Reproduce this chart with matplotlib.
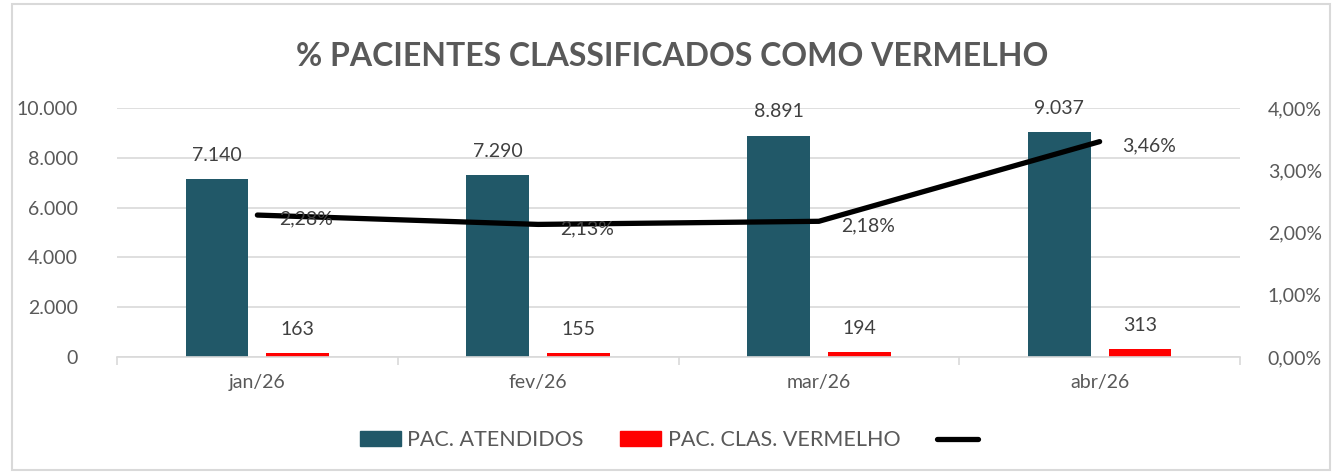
import matplotlib.pyplot as plt
import matplotlib.patches as mpatches
from matplotlib.lines import Line2D
import numpy as np

plt.rcParams['font.family'] = ['Lato', 'DejaVu Sans']

meses = ['jan/26', 'fev/26', 'mar/26', 'abr/26']
atendidos = [7140, 7290, 8891, 9037]
vermelho = [163, 155, 194, 313]
percentual = [2.28, 2.13, 2.18, 3.46]

COR_AZUL = '#215868'
COR_VERM = '#ff0000'
COR_TEXTO = '#595959'
COR_GRADE = '#d9d9d9'


def fmt_milhar(v):
    return f'{v:,.0f}'.replace(',', '.')


fig = plt.figure(figsize=(13.44, 4.75), dpi=100)
fig.patches.append(mpatches.Rectangle((12 / 1344, 5 / 475), 1318 / 1344, 466 / 475,
                                      transform=fig.transFigure, fill=False,
                                      edgecolor=COR_GRADE, linewidth=1.5))

ax = fig.add_axes([117 / 1344, 1 - 357 / 475, 1123 / 1344, 249 / 475])
ax2 = ax.twinx()

x = np.arange(len(meses))
largura = 0.224
desloc = 0.144

ax.bar(x - desloc, atendidos, largura, color=COR_AZUL, zorder=2)
ax.bar(x + desloc, vermelho, largura, color=COR_VERM, zorder=2)

for xi, v in zip(x, atendidos):
    ax.annotate(fmt_milhar(v), (xi - desloc, v), xytext=(0, 11), textcoords='offset points',
                ha='center', va='bottom', fontsize=14, color='#404040')
for xi, v in zip(x, vermelho):
    ax.annotate(fmt_milhar(v), (xi + desloc, v), xytext=(0, 11), textcoords='offset points',
                ha='center', va='bottom', fontsize=14, color='#404040')

ax.set_xlim(-0.5, 3.5)
ax.set_ylim(0, 10000)
ax.set_yticks(range(0, 10001, 2000))
ax.set_yticklabels([fmt_milhar(v) for v in range(0, 10001, 2000)])
ax.grid(axis='y', color=COR_GRADE, linewidth=1.2, zorder=0)
ax.set_axisbelow(True)

ax.set_xticks(x)
ax.set_xticklabels(meses)
ax.set_xticks(np.arange(-0.5, 4, 1), minor=True)
ax.tick_params(axis='x', which='major', length=0, pad=12, labelsize=14, labelcolor=COR_TEXTO)
ax.tick_params(axis='x', which='minor', length=6, color=COR_GRADE, width=1.2)
ax.tick_params(axis='y', length=0, pad=28, labelsize=14, labelcolor=COR_TEXTO)

for lado in ['top', 'left', 'right']:
    ax.spines[lado].set_visible(False)
    ax2.spines[lado].set_visible(False)
ax.spines['bottom'].set_color(COR_GRADE)
ax.spines['bottom'].set_linewidth(1.2)
ax2.spines['bottom'].set_visible(False)

# taxa de vermelhos no eixo secundario
ax2.plot(x, percentual, color='black', linewidth=3.8, solid_capstyle='round', zorder=3)
for xi, p in zip(x, percentual):
    ax2.annotate(f'{p:.2f}%'.replace('.', ','), (xi, p), xytext=(16, -3), textcoords='offset points',
                 ha='left', va='center', fontsize=14, color='#404040')
ax2.set_ylim(0, 4)
ax2.set_yticks(range(0, 5))
ax2.set_yticklabels([f'{v:.2f}%'.replace('.', ',') for v in range(0, 5)])
ax2.tick_params(axis='y', length=0, pad=20, labelsize=14, labelcolor=COR_TEXTO)

fig.text(0.5, 1 - 57 / 475, '% PACIENTES CLASSIFICADOS COMO VERMELHO', ha='center', va='center',
         fontsize=23, fontweight='bold', color=COR_TEXTO)

handles = [mpatches.Patch(color=COR_AZUL), mpatches.Patch(color=COR_VERM),
           Line2D([0], [0], color='black', linewidth=3.8, solid_capstyle='round')]
fig.legend(handles, ['PAC. ATENDIDOS', 'PAC. CLAS. VERMELHO', ''], loc='center',
           bbox_to_anchor=(0.5, 1 - 440 / 475), ncol=3, frameon=False, fontsize=15.5,
           labelcolor=COR_TEXTO, handlelength=1.9, handleheight=0.65, columnspacing=1.7,
           handletextpad=0.3)

fig.savefig('out.png', dpi=100)
